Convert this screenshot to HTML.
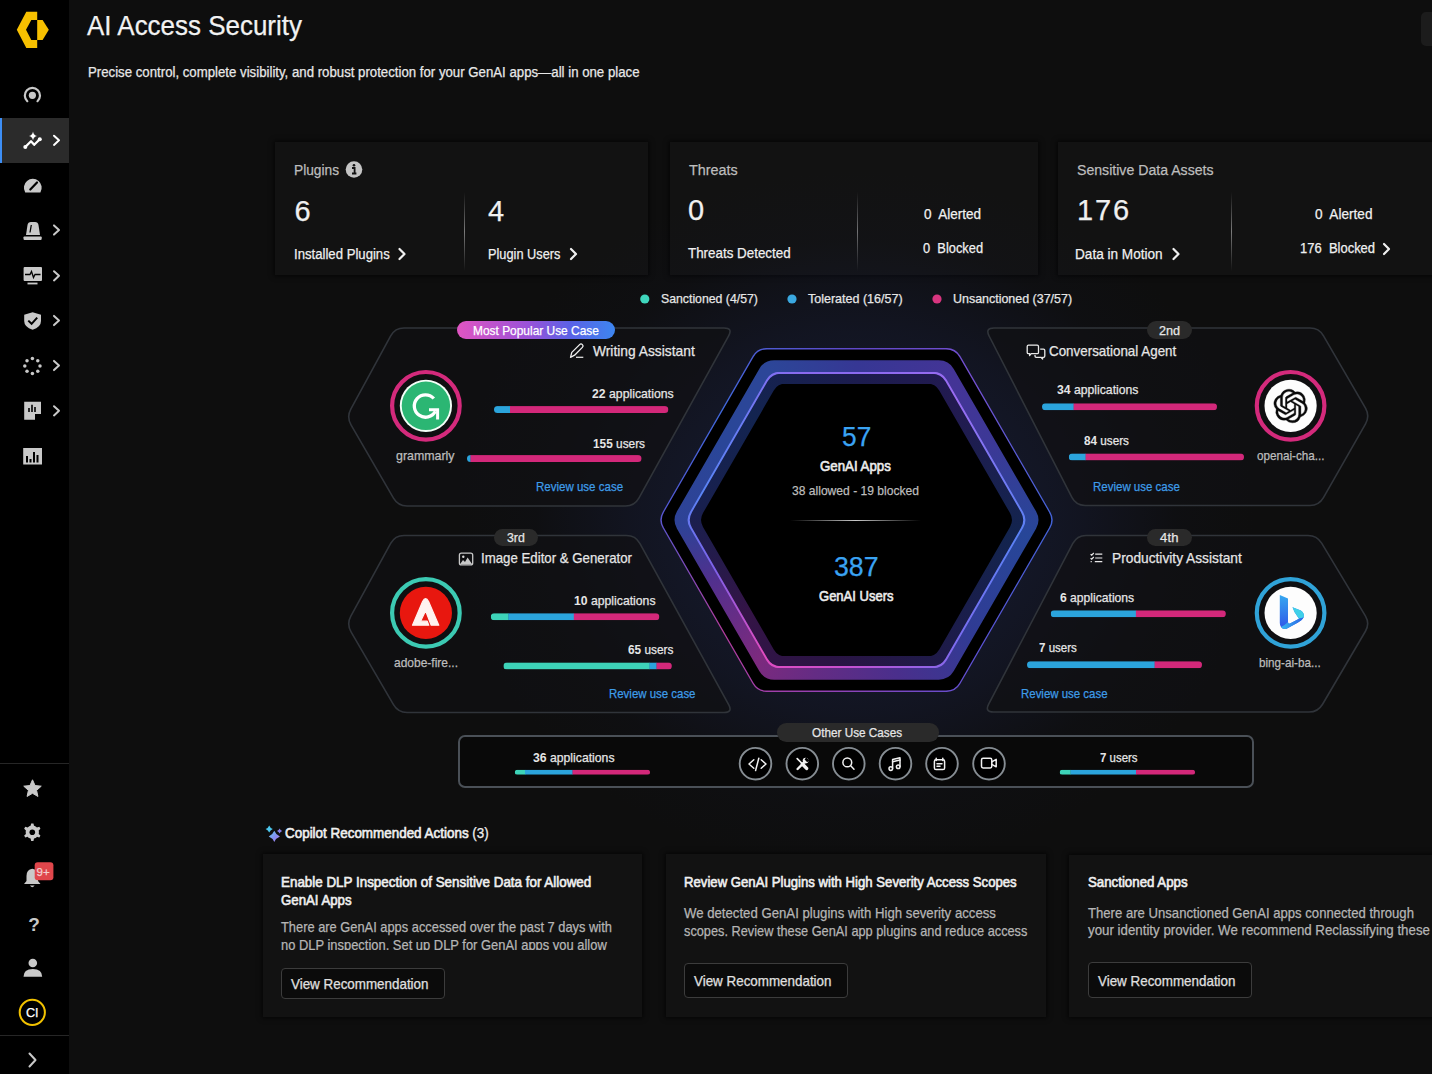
<!DOCTYPE html><html><head><meta charset="utf-8"><title>AI Access Security</title><style>
*{margin:0;padding:0;box-sizing:border-box}
html,body{width:1432px;height:1074px;overflow:hidden;background:#0e0e0e}
body{position:relative;font-family:"Liberation Sans",sans-serif}
.t{position:absolute;white-space:nowrap;-webkit-text-stroke:0.25px currentColor}
.a{position:absolute}
svg.full{position:absolute;left:0;top:0;width:1432px;height:1074px}
</style></head><body>
<div class="a" style="left:0;top:0;width:69px;height:1074px;background:#000"></div>
<div class="a" style="left:0;top:118px;width:69px;height:45px;background:#2b2b2b"></div>
<div class="a" style="left:0;top:118px;width:2px;height:45px;background:#3d8ef5"></div>
<div class="a" style="left:0;top:763px;width:69px;height:1px;background:#262626"></div>
<div class="a" style="left:0;top:1035px;width:69px;height:1px;background:#262626"></div>
<div class="a" style="left:1421px;top:12px;width:20px;height:34px;border-radius:5px;background:#1c1c1c"></div>
<div class="a" style="left:275px;top:142px;width:373px;height:133px;background:#121212;box-shadow:0 0 5px 1px rgba(0,0,0,0.7)"></div>
<div class="a" style="left:670px;top:142px;width:368px;height:133px;background:#121212;box-shadow:0 0 5px 1px rgba(0,0,0,0.7)"></div>
<div class="a" style="left:1058px;top:142px;width:382px;height:133px;background:#121212;box-shadow:0 0 5px 1px rgba(0,0,0,0.7)"></div>
<div class="a" style="left:464px;top:192px;width:1px;height:79px;background:linear-gradient(180deg,rgba(120,120,120,0),#7a7a7a 50%,rgba(120,120,120,0))"></div>
<div class="a" style="left:857px;top:192px;width:1px;height:79px;background:linear-gradient(180deg,rgba(120,120,120,0),#7a7a7a 50%,rgba(120,120,120,0))"></div>
<div class="a" style="left:1231px;top:192px;width:1px;height:79px;background:linear-gradient(180deg,rgba(120,120,120,0),#7a7a7a 50%,rgba(120,120,120,0))"></div>
<div class="a" style="left:456px;top:170px;width:800px;height:700px;background:radial-gradient(closest-side,rgba(34,48,100,0.5),rgba(28,36,78,0.3) 55%,rgba(20,24,50,0.1) 80%,rgba(14,14,14,0) 100%)"></div>
<div class="a" style="left:658.00px;top:348.09px;width:397.00px;height:343.81px;background:conic-gradient(from 0deg at 50% 50%,#6048c8,#7450d0 40deg,#4262d6 90deg,#5c50d2 140deg,#9442b4 190deg,#b23c9c 230deg,#5058d2 275deg,#4068da 310deg,#6048c8);clip-path:path('M4.50 179.70Q0.00 171.91 4.50 164.11L94.75 7.79Q99.25 0.00 108.25 0.00L288.75 0.00Q297.75 0.00 302.25 7.79L392.50 164.11Q397.00 171.91 392.50 179.70L302.25 336.02Q297.75 343.81 288.75 343.81L108.25 343.81Q99.25 343.81 94.75 336.02Z')"></div>
<div class="a" style="left:659.50px;top:349.39px;width:394.00px;height:341.21px;background:#000;clip-path:path('M4.50 178.40Q0.00 170.61 4.50 162.81L94.00 7.79Q98.50 0.00 107.50 0.00L286.50 0.00Q295.50 0.00 300.00 7.79L389.50 162.81Q394.00 170.61 389.50 178.40L300.00 333.42Q295.50 341.21 286.50 341.21L107.50 341.21Q98.50 341.21 94.00 333.42Z')"></div>
<div class="a" style="left:672.00px;top:360.22px;width:369.00px;height:319.56px;background:conic-gradient(from 0deg at 50% 50%,#363794,#443496 35deg,#3c3896 60deg,#274698 95deg,#303b94 135deg,#4a2f8c 165deg,#642c84 195deg,#7c2a7e 215deg,#50308e 248deg,#2e4296 268deg,#2a4698 300deg,#2c4698 330deg,#363794);clip-path:path('M5.00 168.44Q0.00 159.78 5.00 151.12L87.25 8.66Q92.25 0.00 102.25 0.00L266.75 0.00Q276.75 0.00 281.75 8.66L364.00 151.12Q369.00 159.78 364.00 168.44L281.75 310.90Q276.75 319.56 266.75 319.56L102.25 319.56Q92.25 319.56 87.25 310.90Z')"></div>
<div class="a" style="left:685.30px;top:371.74px;width:342.40px;height:296.53px;background:conic-gradient(from 0deg at 50% 50%,#8a6af0,#9a6cf2 40deg,#5a82f5 95deg,#7a6cf0 140deg,#c850d0 185deg,#e04cc0 215deg,#8060e8 250deg,#5a84f5 280deg,#6a7cf4 310deg,#8a6af0 340deg,#8a6af0);clip-path:path('M4.50 156.06Q0.00 148.26 4.50 140.47L81.10 7.79Q85.60 0.00 94.60 0.00L247.80 0.00Q256.80 0.00 261.30 7.79L337.90 140.47Q342.40 148.26 337.90 156.06L261.30 288.73Q256.80 296.53 247.80 296.53L94.60 296.53Q85.60 296.53 81.10 288.73Z')"></div>
<div class="a" style="left:687.50px;top:373.64px;width:338.00px;height:292.72px;background:conic-gradient(from 0deg at 50% 50%,#1c1c4e,#221a50 40deg,#13244e 95deg,#1c1c4a 140deg,#2a1444 190deg,#341446 230deg,#18204e 275deg,#132450 315deg,#1c1c4e);clip-path:path('M4.50 154.15Q0.00 146.36 4.50 138.56L80.00 7.79Q84.50 0.00 93.50 0.00L244.50 0.00Q253.50 0.00 258.00 7.79L333.50 138.56Q338.00 146.36 333.50 154.15L258.00 284.92Q253.50 292.72 244.50 292.72L93.50 292.72Q84.50 292.72 80.00 284.92Z')"></div>
<div class="a" style="left:699.00px;top:383.60px;width:315.00px;height:272.80px;background:#000;clip-path:path('M4.00 143.33Q0.00 136.40 4.00 129.47L74.75 6.93Q78.75 0.00 86.75 0.00L228.25 0.00Q236.25 0.00 240.25 6.93L311.00 129.47Q315.00 136.40 311.00 143.33L240.25 265.87Q236.25 272.80 228.25 272.80L86.75 272.80Q78.75 272.80 74.75 265.87Z')"></div>
<div class="a" style="left:790px;top:519.8px;width:131px;height:1.6px;background:linear-gradient(90deg,rgba(150,150,150,0),#c8c8c8 50%,rgba(150,150,150,0))"></div>
<div class="a" style="left:458px;top:735px;width:796px;height:52.5px;border:2px solid #4a5057;border-radius:7px;background:#090909"></div>
<div class="a" style="left:776.6px;top:723px;width:162px;height:18.6px;border-radius:9.3px;background:#2a2a2a"></div>
<div class="a" style="left:262.6px;top:853.5px;width:379.4px;height:163.5px;background:#121212;box-shadow:0 0 5px 1px rgba(0,0,0,0.7)"></div>
<div class="a" style="left:665.7px;top:853.7px;width:380.8px;height:163.8px;background:#121212;box-shadow:0 0 5px 1px rgba(0,0,0,0.7)"></div>
<div class="a" style="left:1068.7px;top:854.7px;width:371.3px;height:162.7px;background:#121212;box-shadow:0 0 5px 1px rgba(0,0,0,0.7)"></div>
<div class="a" style="left:280.6px;top:968.0px;width:164.0px;height:30.6px;border:1.3px solid #3c3c3c;border-radius:4px;background:#0b0b0b"></div>
<div class="a" style="left:684.4px;top:962.5px;width:164.0px;height:35.0px;border:1.3px solid #3c3c3c;border-radius:4px;background:#0b0b0b"></div>
<div class="a" style="left:1088.0px;top:962.0px;width:164.0px;height:36.0px;border:1.3px solid #3c3c3c;border-radius:4px;background:#0b0b0b"></div>
<svg class="full" viewBox="0 0 1432 1074">
<path d="M37.2 11.7L26.3 11.7L16.8 29.8L26.3 48L37.2 48L37.2 40L31.3 40L26 29.8L31.3 20L37.2 20Z" fill="#f7c000"/>
<path d="M37.2 20L42.6 20L48.8 29.8L42.6 40L37.2 40Z" fill="#f7c000"/>
<path d="M27.3 101.2A7.6 7.6 0 1 1 37.5 101.2" fill="none" stroke="#c9c9c9" stroke-width="2.2" stroke-linecap="round"/><circle cx="32.4" cy="95.3" r="3.6" fill="#c9c9c9"/>
<path d="M33 131.5Q33.6 135.4 37 136Q33.6 136.6 33 140.5Q32.4 136.6 29 136Q32.4 135.4 33 131.5Z" fill="#fff"/>
<path d="M25.5 146.8L31 141.3L34.2 144.8L39.8 139.2" fill="none" stroke="#fff" stroke-width="2.3" stroke-linejoin="round"/><circle cx="25.3" cy="147" r="2" fill="#fff"/><circle cx="39.8" cy="139.2" r="2" fill="#fff"/>
<path d="M25.2 192.4A8.9 8.9 0 1 1 40.4 192.4Z" fill="#c9c9c9"/>
<path d="M30.3 189.5L37 182.5" stroke="#000" stroke-width="2.2" stroke-linecap="round"/>
<path d="M26 235L27.5 225Q28 222 31 222L35 222Q38 222 38.5 225L40 235Z" fill="#c9c9c9"/><path d="M30 232.5L31.3 225" stroke="#000" stroke-width="1.3"/><rect x="23.5" y="236.5" width="18.2" height="3.4" rx="0.8" fill="#c9c9c9"/>
<rect x="23.6" y="267" width="18.4" height="14" rx="1" fill="#c9c9c9"/><path d="M25 274.5L30 274.5L31.5 271.5L33.5 277.5L35 274.5L40.5 274.5" fill="none" stroke="#000" stroke-width="1.3"/><rect x="27.5" y="282.6" width="10" height="1.8" fill="#c9c9c9"/>
<path d="M32.6 312.3L41 314.8L41 321Q41 327 32.6 329.8Q24.2 327 24.2 321L24.2 314.8Z" fill="#c9c9c9"/><path d="M28.3 320.6L31.6 323.8L37.2 317.6" fill="none" stroke="#000" stroke-width="2"/>
<circle cx="32.40" cy="358.40" r="1.75" fill="#c9c9c9"/>
<circle cx="37.77" cy="360.63" r="1.75" fill="#c9c9c9"/>
<circle cx="40.00" cy="366.00" r="1.75" fill="#c9c9c9"/>
<circle cx="37.77" cy="371.37" r="1.75" fill="#c9c9c9"/>
<circle cx="32.40" cy="373.60" r="1.75" fill="#c9c9c9"/>
<circle cx="27.03" cy="371.37" r="1.75" fill="#c9c9c9"/>
<circle cx="24.80" cy="366.00" r="1.75" fill="#c9c9c9"/>
<circle cx="27.03" cy="360.63" r="1.75" fill="#c9c9c9"/>
<path d="M24.2 401.8L41 401.8L41 414L35 414L35 419.8L24.2 419.8Z" fill="#c9c9c9"/><path d="M29 412V408M32 412V404.8M35 412V407" stroke="#000" stroke-width="1.6"/>
<rect x="23.2" y="448" width="18.8" height="16.5" fill="#c9c9c9"/><path d="M27 462.5V456M30.5 462.5V459M34 462.5V452M37.5 462.5V455" stroke="#000" stroke-width="2"/>
<path d="M54 135.7L59 140.3L54 144.9" fill="none" stroke="#fff" stroke-width="2" stroke-linecap="round" stroke-linejoin="round"/>
<path d="M54 225.4L59 230.0L54 234.6" fill="none" stroke="#c9c9c9" stroke-width="2" stroke-linecap="round" stroke-linejoin="round"/>
<path d="M54 271.2L59 275.8L54 280.4" fill="none" stroke="#c9c9c9" stroke-width="2" stroke-linecap="round" stroke-linejoin="round"/>
<path d="M54 315.9L59 320.5L54 325.1" fill="none" stroke="#c9c9c9" stroke-width="2" stroke-linecap="round" stroke-linejoin="round"/>
<path d="M54 360.9L59 365.5L54 370.1" fill="none" stroke="#c9c9c9" stroke-width="2" stroke-linecap="round" stroke-linejoin="round"/>
<path d="M54 406.2L59 410.8L54 415.4" fill="none" stroke="#c9c9c9" stroke-width="2" stroke-linecap="round" stroke-linejoin="round"/>
<path d="M32.50 779.80L35.03 785.52L41.25 786.16L36.59 790.33L37.91 796.44L32.50 793.30L27.09 796.44L28.41 790.33L23.75 786.16L29.97 785.52Z" fill="#c9c9c9" stroke="#c9c9c9" stroke-width="1" stroke-linejoin="round"/>
<path d="M32.30 823.40L33.45 823.48L34.01 825.82L34.83 826.10L35.60 826.48L36.32 826.96L36.97 827.53L39.28 826.84L39.92 827.80L40.43 828.83L38.68 830.49L38.84 831.34L38.90 832.20L38.84 833.06L38.68 833.91L40.43 835.57L39.92 836.60L39.28 837.56L36.97 836.87L36.32 837.44L35.60 837.92L34.83 838.30L34.01 838.58L33.45 840.92L32.30 841.00L31.15 840.92L30.59 838.58L29.77 838.30L29.00 837.92L28.28 837.44L27.63 836.87L25.32 837.56L24.68 836.60L24.17 835.57L25.92 833.91L25.76 833.06L25.70 832.20L25.76 831.34L25.92 830.49L24.17 828.83L24.68 827.80L25.32 826.84L27.63 827.53L28.28 826.96L29.00 826.48L29.77 826.10L30.59 825.82L31.15 823.48Z" fill="#c9c9c9"/><circle cx="32.3" cy="832.2" r="2.8" fill="#000"/>
<path d="M24 884L26.5 881L26.5 876Q26.5 869.5 32.3 868.8Q38 869.5 38 876L38 881L40.5 884Z" fill="#c9c9c9"/><path d="M30 885.6Q32.3 888.8 34.6 885.6Z" fill="#c9c9c9"/>
<rect x="34.7" y="862.2" width="18.7" height="18.1" rx="3" fill="#e0464b"/>
<circle cx="32.8" cy="963" r="4.3" fill="#c9c9c9"/><path d="M23.5 976.8Q23.5 969 32.8 969Q42.2 969 42.2 976.8Z" fill="#c9c9c9"/>
<circle cx="32.3" cy="1012.4" r="12.6" fill="none" stroke="#f2c200" stroke-width="2"/>
<path d="M29.5 1053.5L35.5 1060L29.5 1066.5" fill="none" stroke="#c9c9c9" stroke-width="2" stroke-linecap="round" stroke-linejoin="round"/>
<circle cx="354" cy="169.5" r="8.3" fill="#c4c4c4"/><circle cx="354" cy="165.2" r="1.3" fill="#111"/><path d="M352 168H354.6V173.3M352 173.5H356.4" fill="none" stroke="#111" stroke-width="1.8"/>
<path d="M399.5 249.0L404.5 254.0L399.5 259.0" fill="none" stroke="#f0f0f0" stroke-width="2.2" stroke-linecap="round" stroke-linejoin="round"/>
<path d="M571.0 249.0L576.0 254.0L571.0 259.0" fill="none" stroke="#f0f0f0" stroke-width="2.2" stroke-linecap="round" stroke-linejoin="round"/>
<path d="M1173.5 249.0L1178.5 254.0L1173.5 259.0" fill="none" stroke="#f0f0f0" stroke-width="2.2" stroke-linecap="round" stroke-linejoin="round"/>
<path d="M1384.0 244.0L1389.0 249.0L1384.0 254.0" fill="none" stroke="#f0f0f0" stroke-width="2.2" stroke-linecap="round" stroke-linejoin="round"/>
<circle cx="644.8" cy="299" r="4.6" fill="#3fd6bd"/>
<circle cx="792.0" cy="299" r="4.6" fill="#3aa8e0"/>
<circle cx="937.0" cy="299" r="4.6" fill="#d8357f"/>
<path d="M390.69 335.90Q395.00 328.00 404.00 328.00L724.00 328.00Q733.00 328.00 728.64 335.87L638.86 498.13Q634.50 506.00 625.50 506.00L407.00 506.00Q398.00 506.00 393.49 498.21L351.01 424.79Q346.50 417.00 350.81 409.10Z" fill="rgba(17,17,19,0.72)" stroke="#30343a" stroke-width="1.6"/>
<path d="M989.11 336.01Q985.00 328.00 994.00 328.00L1310.00 328.00Q1319.00 328.00 1323.51 335.79L1365.49 408.21Q1370.00 416.00 1365.54 423.82L1323.46 497.68Q1319.00 505.50 1310.00 505.50L1085.00 505.50Q1076.00 505.50 1071.89 497.49Z" fill="rgba(17,17,19,0.72)" stroke="#30343a" stroke-width="1.6"/>
<path d="M390.67 543.39Q395.00 535.50 404.00 535.50L626.50 535.50Q635.50 535.50 639.84 543.38L728.66 704.62Q733.00 712.50 724.00 712.50L407.00 712.50Q398.00 712.50 393.47 704.72L351.03 631.78Q346.50 624.00 350.83 616.11Z" fill="rgba(17,17,19,0.72)" stroke="#30343a" stroke-width="1.6"/>
<path d="M1072.82 543.47Q1077.00 535.50 1086.00 535.50L1308.00 535.50Q1317.00 535.50 1321.64 543.21L1365.36 615.79Q1370.00 623.50 1365.44 631.26L1322.56 704.24Q1318.00 712.00 1309.00 712.00L993.50 712.00Q984.50 712.00 988.68 704.03Z" fill="rgba(17,17,19,0.72)" stroke="#30343a" stroke-width="1.6"/>
<g><clipPath id="c45"><rect x="494.00" y="406.10" width="174.30" height="7.00" rx="3.50"/></clipPath><g clip-path="url(#c45)"><rect x="494.00" y="406.10" width="16.30" height="7.00" fill="#2ba4dc"/><rect x="510.00" y="406.10" width="158.60" height="7.00" fill="#d3287a"/></g></g>
<g><clipPath id="c46"><rect x="467.00" y="455.10" width="174.50" height="7.00" rx="3.50"/></clipPath><g clip-path="url(#c46)"><rect x="467.00" y="455.10" width="3.80" height="7.00" fill="#2ba4dc"/><rect x="470.50" y="455.10" width="171.30" height="7.00" fill="#d3287a"/></g></g>
<g><clipPath id="c47"><rect x="1042.00" y="403.30" width="175.00" height="7.00" rx="3.50"/></clipPath><g clip-path="url(#c47)"><rect x="1042.00" y="403.30" width="31.90" height="7.00" fill="#2ba4dc"/><rect x="1073.60" y="403.30" width="143.70" height="7.00" fill="#d3287a"/></g></g>
<g><clipPath id="c48"><rect x="1068.80" y="453.40" width="175.20" height="7.00" rx="3.50"/></clipPath><g clip-path="url(#c48)"><rect x="1068.80" y="453.40" width="17.10" height="7.00" fill="#2ba4dc"/><rect x="1085.60" y="453.40" width="158.70" height="7.00" fill="#d3287a"/></g></g>
<g><clipPath id="c49"><rect x="490.80" y="613.20" width="168.50" height="7.00" rx="3.50"/></clipPath><g clip-path="url(#c49)"><rect x="490.80" y="613.20" width="17.90" height="7.00" fill="#3dd3b8"/><rect x="508.40" y="613.20" width="65.70" height="7.00" fill="#2ba4dc"/><rect x="573.80" y="613.20" width="85.80" height="7.00" fill="#d3287a"/></g></g>
<g><clipPath id="c50"><rect x="503.40" y="662.40" width="168.40" height="7.00" rx="3.50"/></clipPath><g clip-path="url(#c50)"><rect x="503.40" y="662.40" width="146.40" height="7.00" fill="#3dd3b8"/><rect x="649.50" y="662.40" width="7.30" height="7.00" fill="#2ba4dc"/><rect x="656.50" y="662.40" width="15.60" height="7.00" fill="#d3287a"/></g></g>
<g><clipPath id="c51"><rect x="1050.70" y="610.30" width="175.10" height="7.00" rx="3.50"/></clipPath><g clip-path="url(#c51)"><rect x="1050.70" y="610.30" width="85.50" height="7.00" fill="#2ba4dc"/><rect x="1135.90" y="610.30" width="90.20" height="7.00" fill="#d3287a"/></g></g>
<g><clipPath id="c52"><rect x="1027.00" y="661.20" width="175.00" height="7.00" rx="3.50"/></clipPath><g clip-path="url(#c52)"><rect x="1027.00" y="661.20" width="127.90" height="7.00" fill="#2ba4dc"/><rect x="1154.60" y="661.20" width="47.70" height="7.00" fill="#d3287a"/></g></g>
<circle cx="425.9" cy="405.8" r="33.8" fill="none" stroke="#d42a7c" stroke-width="4.2"/>
<circle cx="1290.6" cy="405.8" r="33.8" fill="none" stroke="#d42a7c" stroke-width="4.2"/>
<circle cx="425.9" cy="612.9" r="33.8" fill="none" stroke="#3ccab3" stroke-width="4.2"/>
<circle cx="1290.6" cy="612.9" r="33.8" fill="none" stroke="#30a3d8" stroke-width="4.2"/>
<circle cx="425.9" cy="405.8" r="26.1" fill="#f4fff8"/><circle cx="425.9" cy="405.8" r="24.2" fill="#2bb673"/>
<path d="M433.82 398.51A11.2 11.2 0 1 0 435.39 411.26" fill="none" stroke="#fff" stroke-width="3.3"/>
<path d="M429 409.8H437.6V419.4" fill="none" stroke="#fff" stroke-width="3"/>
<circle cx="1290.6" cy="405.8" r="26.1" fill="#fdfdfd"/>
<path d="M22.2819 9.8211a5.9847 5.9847 0 0 0-.5157-4.9108 6.0462 6.0462 0 0 0-6.5098-2.9A6.0651 6.0651 0 0 0 4.9807 4.1818a5.9847 5.9847 0 0 0-3.9977 2.9 6.0462 6.0462 0 0 0 .7427 7.0966 5.98 5.98 0 0 0 .511 4.9107 6.051 6.051 0 0 0 6.5146 2.9001A5.9847 5.9847 0 0 0 13.2599 24a6.0557 6.0557 0 0 0 5.7718-4.2058 5.9894 5.9894 0 0 0 3.9977-2.9001 6.0557 6.0557 0 0 0-.7475-7.0729zm-9.022 12.6081a4.4755 4.4755 0 0 1-2.8764-1.0408l.1419-.0804 4.7783-2.7582a.7948.7948 0 0 0 .3927-.6813v-6.7369l2.02 1.1686a.071.071 0 0 1 .038.052v5.5826a4.504 4.504 0 0 1-4.4945 4.4944zm-9.6607-4.1254a4.4708 4.4708 0 0 1-.5346-3.0137l.142.0852 4.783 2.7582a.7712.7712 0 0 0 .7806 0l5.8428-3.3685v2.3324a.0804.0804 0 0 1-.0332.0615L9.74 19.9502a4.4992 4.4992 0 0 1-6.1408-1.6464zM2.3408 7.8956a4.485 4.485 0 0 1 2.3655-1.9728V11.6a.7664.7664 0 0 0 .3879.6765l5.8144 3.3543-2.0201 1.1685a.0757.0757 0 0 1-.071 0l-4.8303-2.7865A4.504 4.504 0 0 1 2.3408 7.872zm16.5963 3.8558L13.1038 8.364 15.1192 7.2a.0757.0757 0 0 1 .071 0l4.8303 2.7913a4.4944 4.4944 0 0 1-.6765 8.1042v-5.6772a.79.79 0 0 0-.407-.667zm2.0107-3.0231l-.142-.0852-4.7735-2.7818a.7759.7759 0 0 0-.7854 0L9.409 9.2297V6.8974a.0662.0662 0 0 1 .0284-.0615l4.8303-2.7866a4.4992 4.4992 0 0 1 6.6802 4.66zM8.3065 12.863l-2.02-1.1638a.0804.0804 0 0 1-.038-.0567V6.0742a4.4992 4.4992 0 0 1 7.3757-3.4537l-.142.0805L8.704 5.459a.7948.7948 0 0 0-.3927.6813zm1.0976-2.3654l2.602-1.4998 2.6069 1.4998v2.9994l-2.5974 1.4997-2.6067-1.4997Z" fill="#0a0a0a" stroke="#0a0a0a" stroke-width="0.25" transform="translate(1273.80 389.20) scale(1.400)"/>
<circle cx="425.9" cy="612.9" r="26.1" fill="#e8170f"/>
<path d="M412.5 625.2L422.6 601.5Q425.6 595.8 428.6 601.5L438.8 625.2L431.2 625.2L425.6 610.8L420.6 621.2L427.2 621.2L428.8 625.2Z" fill="#fff2f0" stroke="#fff2f0" stroke-width="1.2" stroke-linejoin="round"/>
<defs><linearGradient id="bg1" x1="0" y1="0" x2="0" y2="1"><stop offset="0" stop-color="#36a8f0"/><stop offset="1" stop-color="#2f55e8"/></linearGradient><linearGradient id="bg2" x1="0" y1="0" x2="1" y2="0"><stop offset="0" stop-color="#38b8f0"/><stop offset="1" stop-color="#2a62e6"/></linearGradient></defs>
<circle cx="1290.6" cy="612.9" r="26.1" fill="#fdfdfd"/>
<path d="M1279.8 595L1288 598.5L1288 622Q1288 624.5 1290.5 623.2L1299 618.8L1294.5 612L1292.5 607.3L1300.8 610.5Q1305 613.5 1303.6 617.5Q1302.5 620 1298 622.5L1287 628.5Q1283 630 1281 627Q1279.8 625.5 1279.8 623Z" fill="url(#bg1)"/>
<path d="M1292.5 607.3L1300.8 610.5Q1305 613.5 1303.6 617.5L1299 618.8L1294.5 612Z" fill="#3fd0e8"/>
<path d="M1281 627Q1283 630 1287 628.5L1298 622.5Q1302.5 620 1303.6 617.5L1299 618.8L1290.5 623.2Q1288 624.5 1288 622Q1284 626 1281 627Z" fill="url(#bg2)"/>
<path d="M570.5 357.3L571.8 352.4L579.6 344.6Q581 343.2 582.4 344.6Q583.8 346 582.4 347.4L574.6 355.2Z" fill="none" stroke="#f0f0f0" stroke-width="1.3" stroke-linejoin="round"/><path d="M576 357.3H583.3" stroke="#e0e0e0" stroke-width="1.3"/>
<path d="M1028.5 345.2H1037.2Q1038.5 345.2 1038.5 346.5V352.4Q1038.5 353.7 1037.2 353.7H1031.2L1029.6 355.6V353.7H1028.5Q1027.2 353.7 1027.2 352.4V346.5Q1027.2 345.2 1028.5 345.2Z" fill="none" stroke="#eaeaea" stroke-width="1.3" stroke-linejoin="round"/><path d="M1040.2 349.2H1043.5Q1044.8 349.2 1044.8 350.5V356Q1044.8 357.3 1043.5 357.3H1042.6V359L1041 357.3H1036.2Q1035 357.3 1035 356V355" fill="none" stroke="#eaeaea" stroke-width="1.3" stroke-linejoin="round"/>
<rect x="459.4" y="553.2" width="13.3" height="11.7" rx="2" fill="none" stroke="#c8c8c8" stroke-width="1.3"/><path d="M460 564.3L463 560L465 562L467.6 557.5L472.2 564.3Z" fill="#c8c8c8"/><circle cx="463.3" cy="556.8" r="1.2" fill="#d8d8d8"/>
<path d="M1090.6 554.2L1091.7 555.2L1093.8 553M1090.6 558.2L1091.7 559.2L1093.8 557M1090.6 561.6H1091.8M1095.2 554.2H1102.3M1095.2 558H1102.3M1094.8 561.6H1102.3" fill="none" stroke="#e8e8e8" stroke-width="1.2"/>
<clipPath id="c73"><rect x="514.80" y="769.70" width="135.20" height="5.00" rx="2.50"/></clipPath><g clip-path="url(#c73)"><rect x="514.80" y="769.70" width="10.50" height="5.00" fill="#3dd3b8"/><rect x="525.00" y="769.70" width="47.80" height="5.00" fill="#2ba4dc"/><rect x="572.50" y="769.70" width="77.80" height="5.00" fill="#d3287a"/></g>
<clipPath id="c74"><rect x="1059.70" y="769.70" width="135.30" height="5.00" rx="2.50"/></clipPath><g clip-path="url(#c74)"><rect x="1059.70" y="769.70" width="11.10" height="5.00" fill="#3dd3b8"/><rect x="1070.50" y="769.70" width="65.80" height="5.00" fill="#2ba4dc"/><rect x="1136.00" y="769.70" width="59.30" height="5.00" fill="#d3287a"/></g>
<circle cx="755.5" cy="763.7" r="15.8" fill="#000" stroke="#868d93" stroke-width="1.9"/>
<circle cx="802.3" cy="763.7" r="15.8" fill="#000" stroke="#868d93" stroke-width="1.9"/>
<circle cx="848.8" cy="763.7" r="15.8" fill="#000" stroke="#868d93" stroke-width="1.9"/>
<circle cx="895.5" cy="763.7" r="15.8" fill="#000" stroke="#868d93" stroke-width="1.9"/>
<circle cx="942.0" cy="763.7" r="15.8" fill="#000" stroke="#868d93" stroke-width="1.9"/>
<circle cx="989.0" cy="763.7" r="15.8" fill="#000" stroke="#868d93" stroke-width="1.9"/>
<path d="M753.8 759.8L749 764L753.8 768.2M761.2 759.8L766 764L761.2 768.2M758.8 758.2L755.6 770.5" fill="none" stroke="#f2f2f2" stroke-width="1.5" stroke-linecap="round" stroke-linejoin="round"/>
<path d="M797.2 758.6L801.6 763" stroke="#f2f2f2" stroke-width="1.7" stroke-linecap="round"/><path d="M802.4 764L806.6 768.4" stroke="#f2f2f2" stroke-width="3.4" stroke-linecap="round"/><path d="M797.6 769L804.2 762.4" stroke="#f2f2f2" stroke-width="2.4" stroke-linecap="round"/><circle cx="805.6" cy="760.6" r="2.9" fill="#f2f2f2"/><path d="M806.2 757.2L809.4 760.4L807.2 762.2L804.6 759.6Z" fill="#000"/>
<circle cx="847.3" cy="762.4" r="4.4" fill="none" stroke="#f2f2f2" stroke-width="1.5" stroke-linecap="round" stroke-linejoin="round"/><path d="M850.5 765.6L854 769.2" fill="none" stroke="#f2f2f2" stroke-width="1.5" stroke-linecap="round" stroke-linejoin="round"/>
<path d="M892.6 768.2V759.5L900 757.8V766.5" fill="none" stroke="#f2f2f2" stroke-width="1.5" stroke-linecap="round" stroke-linejoin="round"/><path d="M892.6 761.8L900 760.1" fill="none" stroke="#f2f2f2" stroke-width="1.5" stroke-linecap="round" stroke-linejoin="round"/><circle cx="890.8" cy="768.6" r="1.8" fill="none" stroke="#f2f2f2" stroke-width="1.5" stroke-linecap="round" stroke-linejoin="round"/><circle cx="898.2" cy="766.8" r="1.8" fill="none" stroke="#f2f2f2" stroke-width="1.5" stroke-linecap="round" stroke-linejoin="round"/>
<rect x="934.4" y="759.8" width="10.2" height="9.8" rx="1.6" fill="none" stroke="#f2f2f2" stroke-width="1.5" stroke-linecap="round" stroke-linejoin="round"/><path d="M936.2 758.3V760.5M942.8 758.3V760.5M937 763.8H942M937 766.2H940" fill="none" stroke="#f2f2f2" stroke-width="1.5" stroke-linecap="round" stroke-linejoin="round"/>
<rect x="981.5" y="758.3" width="10.3" height="9.6" rx="1.6" fill="none" stroke="#f2f2f2" stroke-width="1.5" stroke-linecap="round" stroke-linejoin="round"/><path d="M991.8 761.8L996.2 759.4V766.8L991.8 764.4" fill="none" stroke="#f2f2f2" stroke-width="1.5" stroke-linecap="round" stroke-linejoin="round"/>
<defs><linearGradient id="sp" x1="0" y1="0" x2="1" y2="1"><stop offset="0" stop-color="#5ec8f0"/><stop offset="0.6" stop-color="#8a88f0"/><stop offset="1" stop-color="#b08af5"/></linearGradient></defs>
<path d="M269.20 825.40Q270.21 827.99 272.80 829.00Q270.21 830.01 269.20 832.60Q268.19 830.01 265.60 829.00Q268.19 827.99 269.20 825.40Z" fill="#4cc8ee"/>
<path d="M279.60 828.40Q280.33 830.27 282.20 831.00Q280.33 831.73 279.60 833.60Q278.87 831.73 277.00 831.00Q278.87 830.27 279.60 828.40Z" fill="#8a80ee"/>
<path d="M274.30 830.80Q275.87 834.83 279.90 836.40Q275.87 837.97 274.30 842.00Q272.73 837.97 268.70 836.40Q272.73 834.83 274.30 830.80Z" fill="url(#sp)"/>
</svg>
<div class="a" style="left:456.8px;top:320.5px;width:158.2px;height:18.8px;border-radius:9.4px;background:linear-gradient(90deg,#e055c2,#9a52d8 45%,#5a62e6 72%,#3d86f0)"></div>
<div class="a" style="left:1147.0px;top:321.0px;width:44.5px;height:18.0px;border-radius:9px;background:#2a2a2a"></div>
<div class="a" style="left:494.0px;top:529.0px;width:43.8px;height:17.3px;border-radius:9px;background:#2a2a2a"></div>
<div class="a" style="left:1147.0px;top:529.0px;width:44.5px;height:17.3px;border-radius:9px;background:#2a2a2a"></div>
<div class="t" style="left:36.50px;top:867.23px;font-size:11.50px;line-height:11.50px;color:#f3d0d0;letter-spacing:0.109px;"><span style="font-weight:400;">9+</span></div>
<div class="t" style="left:28.30px;top:915.45px;font-size:19.00px;line-height:19.00px;color:#c9c9c9;letter-spacing:0.000px;"><span style="font-weight:700;-webkit-text-stroke:0px;">?</span></div>
<div class="t" style="left:25.60px;top:1005.95px;font-size:13.00px;line-height:13.00px;color:#fff;letter-spacing:0.000px;transform:scaleX(0.9708);transform-origin:0 0;"><span style="font-weight:400;">CI</span></div>
<div class="t" style="left:87.00px;top:12.20px;font-size:28.00px;line-height:28.00px;color:#f2f2f2;letter-spacing:0.000px;transform:scaleX(0.9272);transform-origin:0 0;"><span style="font-weight:400;">AI Access Security</span></div>
<div class="t" style="left:87.50px;top:64.50px;font-size:14.00px;line-height:14.00px;color:#e8e8e8;letter-spacing:0.000px;transform:scaleX(0.9441);transform-origin:0 0;"><span style="font-weight:400;">Precise control, complete visibility, and robust protection for your GenAI apps—all in one place</span></div>
<div class="t" style="left:294.20px;top:161.52px;font-size:15.50px;line-height:15.50px;color:#bdbdbd;letter-spacing:0.000px;transform:scaleX(0.8866);transform-origin:0 0;"><span style="font-weight:400;">Plugins</span></div>
<div class="t" style="left:294.60px;top:196.85px;font-size:29.00px;line-height:29.00px;color:#f0f0f0;letter-spacing:0.000px;"><span style="font-weight:400;">6</span></div>
<div class="t" style="left:294.00px;top:245.52px;font-size:15.50px;line-height:15.50px;color:#f0f0f0;letter-spacing:0.000px;transform:scaleX(0.8484);transform-origin:0 0;"><span style="font-weight:400;">Installed Plugins</span></div>
<div class="t" style="left:488.00px;top:196.85px;font-size:29.00px;line-height:29.00px;color:#f0f0f0;letter-spacing:0.000px;"><span style="font-weight:400;">4</span></div>
<div class="t" style="left:488.00px;top:245.52px;font-size:15.50px;line-height:15.50px;color:#f0f0f0;letter-spacing:0.000px;transform:scaleX(0.8238);transform-origin:0 0;"><span style="font-weight:400;">Plugin Users</span></div>
<div class="t" style="left:688.50px;top:161.52px;font-size:15.50px;line-height:15.50px;color:#bdbdbd;letter-spacing:0.000px;transform:scaleX(0.9278);transform-origin:0 0;"><span style="font-weight:400;">Threats</span></div>
<div class="t" style="left:688.00px;top:196.35px;font-size:29.00px;line-height:29.00px;color:#f0f0f0;letter-spacing:0.000px;"><span style="font-weight:400;">0</span></div>
<div class="t" style="left:688.00px;top:244.82px;font-size:15.50px;line-height:15.50px;color:#f0f0f0;letter-spacing:0.000px;transform:scaleX(0.8633);transform-origin:0 0;"><span style="font-weight:400;">Threats Detected</span></div>
<div class="t" style="left:924.00px;top:206.68px;font-size:14.50px;line-height:14.50px;color:#f0f0f0;letter-spacing:0.000px;transform:scaleX(0.9313);transform-origin:0 0;"><span style="font-weight:400;">0  Alerted</span></div>
<div class="t" style="left:922.60px;top:241.18px;font-size:14.50px;line-height:14.50px;color:#f0f0f0;letter-spacing:0.000px;transform:scaleX(0.8870);transform-origin:0 0;"><span style="font-weight:400;">0  Blocked</span></div>
<div class="t" style="left:1077.00px;top:161.82px;font-size:15.50px;line-height:15.50px;color:#bdbdbd;letter-spacing:0.000px;transform:scaleX(0.9108);transform-origin:0 0;"><span style="font-weight:400;">Sensitive Data Assets</span></div>
<div class="t" style="left:1077.00px;top:195.85px;font-size:29.00px;line-height:29.00px;color:#f0f0f0;letter-spacing:1.875px;"><span style="font-weight:400;">176</span></div>
<div class="t" style="left:1075.00px;top:245.52px;font-size:15.50px;line-height:15.50px;color:#f0f0f0;letter-spacing:0.000px;transform:scaleX(0.8770);transform-origin:0 0;"><span style="font-weight:400;">Data in Motion</span></div>
<div class="t" style="left:1314.60px;top:206.68px;font-size:14.50px;line-height:14.50px;color:#f0f0f0;letter-spacing:0.000px;transform:scaleX(0.9379);transform-origin:0 0;"><span style="font-weight:400;">0  Alerted</span></div>
<div class="t" style="left:1299.50px;top:241.18px;font-size:14.50px;line-height:14.50px;color:#f0f0f0;letter-spacing:0.000px;transform:scaleX(0.8954);transform-origin:0 0;"><span style="font-weight:400;">176  Blocked</span></div>
<div class="t" style="left:660.80px;top:292.35px;font-size:13.00px;line-height:13.00px;color:#e6e6e6;letter-spacing:0.000px;transform:scaleX(0.9440);transform-origin:0 0;"><span style="font-weight:400;">Sanctioned (4/57)</span></div>
<div class="t" style="left:808.30px;top:292.35px;font-size:13.00px;line-height:13.00px;color:#e6e6e6;letter-spacing:0.000px;transform:scaleX(0.9624);transform-origin:0 0;"><span style="font-weight:400;">Tolerated (16/57)</span></div>
<div class="t" style="left:953.00px;top:292.35px;font-size:13.00px;line-height:13.00px;color:#e6e6e6;letter-spacing:0.000px;transform:scaleX(0.9579);transform-origin:0 0;"><span style="font-weight:400;">Unsanctioned (37/57)</span></div>
<div class="t" style="left:841.60px;top:422.62px;font-size:27.50px;line-height:27.50px;color:#3aa3f3;letter-spacing:0.000px;transform:scaleX(0.9572);transform-origin:0 0;"><span style="font-weight:400;">57</span></div>
<div class="t" style="left:820.40px;top:459.07px;font-size:14.50px;line-height:14.50px;color:#ececec;letter-spacing:0.000px;transform:scaleX(0.9152);transform-origin:0 0;"><span style="font-weight:400;-webkit-text-stroke:0.6px currentColor;">GenAI Apps</span></div>
<div class="t" style="left:792.00px;top:483.52px;font-size:13.50px;line-height:13.50px;color:#bdbdbd;letter-spacing:0.000px;transform:scaleX(0.8952);transform-origin:0 0;"><span style="font-weight:400;">38 allowed - 19 blocked</span></div>
<div class="t" style="left:833.80px;top:552.70px;font-size:28.00px;line-height:28.00px;color:#3aa3f3;letter-spacing:0.000px;transform:scaleX(0.9543);transform-origin:0 0;"><span style="font-weight:400;">387</span></div>
<div class="t" style="left:818.60px;top:588.88px;font-size:14.50px;line-height:14.50px;color:#ececec;letter-spacing:0.000px;transform:scaleX(0.8979);transform-origin:0 0;"><span style="font-weight:400;-webkit-text-stroke:0.6px currentColor;">GenAI Users</span></div>
<div class="t" style="left:472.70px;top:323.95px;font-size:13.00px;line-height:13.00px;color:#ffffff;letter-spacing:0.000px;transform:scaleX(0.9170);transform-origin:0 0;"><span style="font-weight:400;">Most Popular Use Case</span></div>
<div class="t" style="left:1158.80px;top:323.95px;font-size:13.00px;line-height:13.00px;color:#e6e6e6;letter-spacing:0.000px;transform:scaleX(0.9735);transform-origin:0 0;"><span style="font-weight:400;">2nd</span></div>
<div class="t" style="left:506.80px;top:530.55px;font-size:13.00px;line-height:13.00px;color:#e6e6e6;letter-spacing:0.000px;transform:scaleX(0.9481);transform-origin:0 0;"><span style="font-weight:400;">3rd</span></div>
<div class="t" style="left:1160.00px;top:530.55px;font-size:13.00px;line-height:13.00px;color:#e6e6e6;letter-spacing:0.228px;"><span style="font-weight:400;">4th</span></div>
<div class="t" style="left:592.80px;top:342.65px;font-size:15.00px;line-height:15.00px;color:#e6e6e6;letter-spacing:0.000px;transform:scaleX(0.9198);transform-origin:0 0;"><span style="font-weight:400;">Writing Assistant</span></div>
<div class="t" style="left:591.70px;top:386.85px;font-size:13.00px;line-height:13.00px;color:#e6e6e6;letter-spacing:0.000px;transform:scaleX(0.9420);transform-origin:0 0;"><span style="font-weight:700;-webkit-text-stroke:0px;">22</span><span style="font-weight:400;"> applications</span></div>
<div class="t" style="left:592.50px;top:436.55px;font-size:13.00px;line-height:13.00px;color:#e6e6e6;letter-spacing:0.000px;transform:scaleX(0.9113);transform-origin:0 0;"><span style="font-weight:700;-webkit-text-stroke:0px;">155</span><span style="font-weight:400;"> users</span></div>
<div class="t" style="left:396.00px;top:448.95px;font-size:13.00px;line-height:13.00px;color:#bdbdbd;letter-spacing:0.000px;transform:scaleX(0.9531);transform-origin:0 0;"><span style="font-weight:400;">grammarly</span></div>
<div class="t" style="left:536.00px;top:480.22px;font-size:13.50px;line-height:13.50px;color:#3e9ce8;letter-spacing:0.000px;transform:scaleX(0.8530);transform-origin:0 0;"><span style="font-weight:400;">Review use case</span></div>
<div class="t" style="left:1049.00px;top:342.65px;font-size:15.00px;line-height:15.00px;color:#e6e6e6;letter-spacing:0.000px;transform:scaleX(0.8924);transform-origin:0 0;"><span style="font-weight:400;">Conversational Agent</span></div>
<div class="t" style="left:1056.80px;top:383.45px;font-size:13.00px;line-height:13.00px;color:#e6e6e6;letter-spacing:0.000px;transform:scaleX(0.9385);transform-origin:0 0;"><span style="font-weight:700;-webkit-text-stroke:0px;">34</span><span style="font-weight:400;"> applications</span></div>
<div class="t" style="left:1084.00px;top:433.75px;font-size:13.00px;line-height:13.00px;color:#e6e6e6;letter-spacing:0.000px;transform:scaleX(0.9012);transform-origin:0 0;"><span style="font-weight:700;-webkit-text-stroke:0px;">84</span><span style="font-weight:400;"> users</span></div>
<div class="t" style="left:1256.50px;top:448.95px;font-size:13.00px;line-height:13.00px;color:#bdbdbd;letter-spacing:0.000px;transform:scaleX(0.8984);transform-origin:0 0;"><span style="font-weight:400;">openai-cha...</span></div>
<div class="t" style="left:1093.00px;top:480.22px;font-size:13.50px;line-height:13.50px;color:#3e9ce8;letter-spacing:0.000px;transform:scaleX(0.8511);transform-origin:0 0;"><span style="font-weight:400;">Review use case</span></div>
<div class="t" style="left:481.00px;top:550.25px;font-size:15.00px;line-height:15.00px;color:#e6e6e6;letter-spacing:0.000px;transform:scaleX(0.8832);transform-origin:0 0;"><span style="font-weight:400;">Image Editor &amp; Generator</span></div>
<div class="t" style="left:574.00px;top:593.95px;font-size:13.00px;line-height:13.00px;color:#e6e6e6;letter-spacing:0.000px;transform:scaleX(0.9397);transform-origin:0 0;"><span style="font-weight:700;-webkit-text-stroke:0px;">10</span><span style="font-weight:400;"> applications</span></div>
<div class="t" style="left:628.00px;top:643.35px;font-size:13.00px;line-height:13.00px;color:#e6e6e6;letter-spacing:0.000px;transform:scaleX(0.9092);transform-origin:0 0;"><span style="font-weight:700;-webkit-text-stroke:0px;">65</span><span style="font-weight:400;"> users</span></div>
<div class="t" style="left:393.60px;top:655.95px;font-size:13.00px;line-height:13.00px;color:#bdbdbd;letter-spacing:0.000px;transform:scaleX(0.9229);transform-origin:0 0;"><span style="font-weight:400;">adobe-fire...</span></div>
<div class="t" style="left:608.70px;top:687.02px;font-size:13.50px;line-height:13.50px;color:#3e9ce8;letter-spacing:0.000px;transform:scaleX(0.8472);transform-origin:0 0;"><span style="font-weight:400;">Review use case</span></div>
<div class="t" style="left:1112.00px;top:550.25px;font-size:15.00px;line-height:15.00px;color:#e6e6e6;letter-spacing:0.000px;transform:scaleX(0.9161);transform-origin:0 0;"><span style="font-weight:400;">Productivity Assistant</span></div>
<div class="t" style="left:1060.40px;top:590.95px;font-size:13.00px;line-height:13.00px;color:#e6e6e6;letter-spacing:0.000px;transform:scaleX(0.9321);transform-origin:0 0;"><span style="font-weight:700;-webkit-text-stroke:0px;">6</span><span style="font-weight:400;"> applications</span></div>
<div class="t" style="left:1038.70px;top:641.45px;font-size:13.00px;line-height:13.00px;color:#e6e6e6;letter-spacing:0.000px;transform:scaleX(0.8878);transform-origin:0 0;"><span style="font-weight:700;-webkit-text-stroke:0px;">7</span><span style="font-weight:400;"> users</span></div>
<div class="t" style="left:1259.00px;top:655.95px;font-size:13.00px;line-height:13.00px;color:#bdbdbd;letter-spacing:0.000px;transform:scaleX(0.8977);transform-origin:0 0;"><span style="font-weight:400;">bing-ai-ba...</span></div>
<div class="t" style="left:1021.00px;top:687.02px;font-size:13.50px;line-height:13.50px;color:#3e9ce8;letter-spacing:0.000px;transform:scaleX(0.8481);transform-origin:0 0;"><span style="font-weight:400;">Review use case</span></div>
<div class="t" style="left:812.00px;top:725.85px;font-size:13.00px;line-height:13.00px;color:#e6e6e6;letter-spacing:0.000px;transform:scaleX(0.9040);transform-origin:0 0;"><span style="font-weight:400;">Other Use Cases</span></div>
<div class="t" style="left:533.00px;top:751.45px;font-size:13.00px;line-height:13.00px;color:#e6e6e6;letter-spacing:0.000px;transform:scaleX(0.9397);transform-origin:0 0;"><span style="font-weight:700;-webkit-text-stroke:0px;">36</span><span style="font-weight:400;"> applications</span></div>
<div class="t" style="left:1100.00px;top:751.45px;font-size:13.00px;line-height:13.00px;color:#e6e6e6;letter-spacing:0.000px;transform:scaleX(0.8808);transform-origin:0 0;"><span style="font-weight:700;-webkit-text-stroke:0px;">7</span><span style="font-weight:400;"> users</span></div>
<div class="t" style="left:285.40px;top:825.53px;font-size:14.20px;line-height:14.20px;color:#f0f0f0;letter-spacing:0.000px;transform:scaleX(0.9464);transform-origin:0 0;"><span style="font-weight:400;-webkit-text-stroke:0.6px currentColor;">Copilot Recommended Actions</span><span style="font-weight:400;"> (3)</span></div>
<div class="t" style="left:281.00px;top:874.53px;font-size:14.20px;line-height:14.20px;color:#f0f0f0;letter-spacing:0.000px;transform:scaleX(0.9442);transform-origin:0 0;"><span style="font-weight:400;-webkit-text-stroke:0.6px currentColor;">Enable DLP Inspection of Sensitive Data for Allowed</span></div>
<div class="t" style="left:281.00px;top:892.53px;font-size:14.20px;line-height:14.20px;color:#f0f0f0;letter-spacing:0.000px;transform:scaleX(0.9322);transform-origin:0 0;"><span style="font-weight:400;-webkit-text-stroke:0.6px currentColor;">GenAI Apps</span></div>
<div class="t" style="left:281.00px;top:919.53px;font-size:14.20px;line-height:14.20px;color:#b5b5b5;letter-spacing:0.000px;transform:scaleX(0.9061);transform-origin:0 0;"><span style="font-weight:400;">There are GenAI apps accessed over the past 7 days with</span></div>
<div class="a" style="left:270px;top:936px;width:360px;height:14px;overflow:hidden"><div class="t" style="left:11.00px;top:1.53px;font-size:14.20px;line-height:14.20px;color:#b5b5b5;letter-spacing:0.000px;transform:scaleX(0.9110);transform-origin:0 0;"><span style="font-weight:400;">no DLP inspection. Set up DLP for GenAI apps you allow</span></div>
</div><div class="t" style="left:684.40px;top:875.13px;font-size:14.20px;line-height:14.20px;color:#f0f0f0;letter-spacing:0.000px;transform:scaleX(0.9272);transform-origin:0 0;"><span style="font-weight:400;-webkit-text-stroke:0.6px currentColor;">Review GenAI Plugins with High Severity Access Scopes</span></div>
<div class="t" style="left:684.20px;top:905.83px;font-size:14.20px;line-height:14.20px;color:#b5b5b5;letter-spacing:0.000px;transform:scaleX(0.9292);transform-origin:0 0;"><span style="font-weight:400;">We detected GenAI plugins with High severity access</span></div>
<div class="t" style="left:684.20px;top:923.83px;font-size:14.20px;line-height:14.20px;color:#b5b5b5;letter-spacing:0.000px;transform:scaleX(0.8996);transform-origin:0 0;"><span style="font-weight:400;">scopes. Review these GenAI app plugins and reduce access</span></div>
<div class="t" style="left:1087.90px;top:875.43px;font-size:14.20px;line-height:14.20px;color:#f0f0f0;letter-spacing:0.000px;transform:scaleX(0.9351);transform-origin:0 0;"><span style="font-weight:400;-webkit-text-stroke:0.6px currentColor;">Sanctioned Apps</span></div>
<div class="t" style="left:1088.00px;top:905.83px;font-size:14.20px;line-height:14.20px;color:#b5b5b5;letter-spacing:0.000px;transform:scaleX(0.9245);transform-origin:0 0;"><span style="font-weight:400;">There are Unsanctioned GenAI apps connected through</span></div>
<div class="t" style="left:1088.00px;top:923.43px;font-size:14.20px;line-height:14.20px;color:#b5b5b5;letter-spacing:0.000px;transform:scaleX(0.9372);transform-origin:0 0;"><span style="font-weight:400;">your identity provider. We recommend Reclassifying these</span></div>
<div class="t" style="left:290.50px;top:976.93px;font-size:14.20px;line-height:14.20px;color:#e0e0e0;letter-spacing:0.000px;transform:scaleX(0.9441);transform-origin:0 0;"><span style="font-weight:400;">View Recommendation</span></div>
<div class="t" style="left:694.40px;top:973.93px;font-size:14.20px;line-height:14.20px;color:#e0e0e0;letter-spacing:0.000px;transform:scaleX(0.9441);transform-origin:0 0;"><span style="font-weight:400;">View Recommendation</span></div>
<div class="t" style="left:1098.00px;top:973.93px;font-size:14.20px;line-height:14.20px;color:#e0e0e0;letter-spacing:0.000px;transform:scaleX(0.9441);transform-origin:0 0;"><span style="font-weight:400;">View Recommendation</span></div>
</body></html>
